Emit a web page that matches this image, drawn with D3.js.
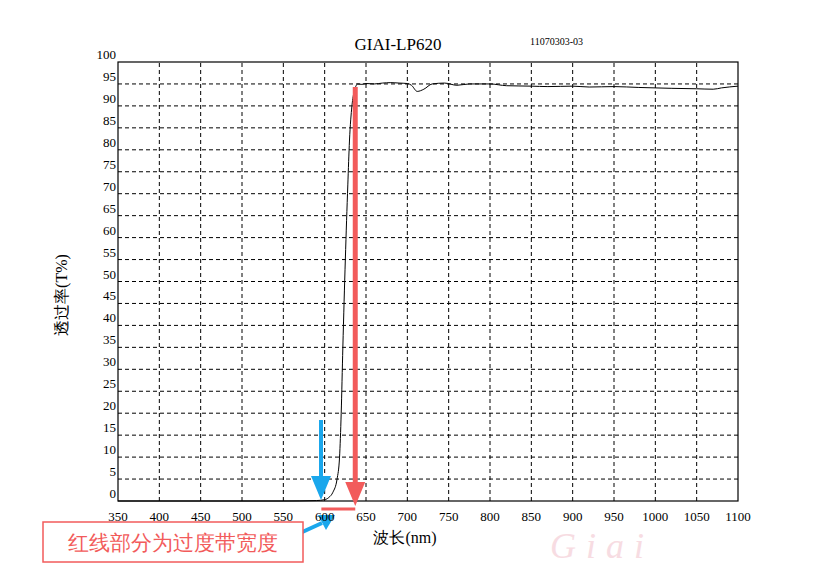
<!DOCTYPE html>
<html><head><meta charset="utf-8">
<script src="https://cdn.jsdelivr.net/npm/d3@7"></script>
<style>body{margin:0;background:#fff}text{font-family:"Liberation Serif","DejaVu Serif",serif}</style>
</head><body>
<svg id="c" width="831" height="566"></svg>
<script>
// transmission curve (wavelength nm, T%)
const wavelength = [350,400,450,500,550,590,600,605,610,615,618,620,622,625,628,630,633,636,638,640,645,650,660,670,680,690,700,705,712,720,730,745,760,775,800,820,850,870,900,920,950,980,1000,1020,1050,1070,1080,1100];
const transmission = [0,0,0,0,0,0.1,0.3,0.8,2,5,10,20,35,55,72,82,90,93.5,94.6,95,94.9,95.1,95,95.2,95.3,95.2,95.1,94.7,93.3,93.8,95.0,95.2,94.7,95.0,95.0,94.6,94.5,94.4,94.5,94.3,94.4,94.2,94.1,94.0,93.9,93.8,94.1,94.5];
const xTicks = d3.range(350, 1101, 50);
const yTicks = d3.range(0, 101, 5);

const svg = d3.select("#c");
const x = d3.scaleLinear().domain([350, 1100]).range([118, 738]);
const y = d3.scaleLinear().domain([0, 100]).range([501, 62]);

// watermark (behind everything)
svg.append("text").attr("x", 550).attr("y", 558).attr("font-size", 36).attr("font-style", "italic")
  .attr("font-family", "Liberation Serif").attr("fill", "#f3c6cf").attr("opacity", 0.6).attr("letter-spacing", 10).text("Giai");

const grid = svg.append("g").attr("stroke", "#000").attr("stroke-dasharray", "4,3").attr("stroke-width", 1);
grid.selectAll(".v").data(xTicks.slice(1, -1)).join("line")
  .attr("x1", d => x(d)).attr("x2", d => x(d)).attr("y1", y(0)).attr("y2", y(100));
grid.selectAll(".h").data(yTicks.slice(1, -1)).join("line")
  .attr("y1", d => y(d)).attr("y2", d => y(d)).attr("x1", x(350)).attr("x2", x(1100));
svg.append("rect").attr("x", x(350)).attr("y", y(100)).attr("width", x(1100) - x(350)).attr("height", y(0) - y(100))
  .attr("fill", "none").attr("stroke", "#000").attr("stroke-width", 1.2);

svg.append("path").datum(d3.zip(wavelength, transmission))
  .attr("fill", "none").attr("stroke", "#000").attr("stroke-width", 1)
  .attr("d", d3.line().x(d => x(d[0])).y(d => y(d[1])).curve(d3.curveMonotoneX));

svg.append("text").attr("x", 398).attr("y", 50).attr("text-anchor", "middle").attr("font-size", 17)
  .attr("font-family", "Liberation Sans, sans-serif").text("GIAI-LP620");
svg.append("text").attr("x", 530).attr("y", 45).attr("font-size", 10).attr("font-family", "Liberation Sans, sans-serif").text("11070303-03");
svg.append("text").attr("transform", "translate(67,295) rotate(-90)").attr("text-anchor", "middle").attr("font-size", 16)
  .attr("font-family", "Noto Sans CJK SC").text("透过率(T%)");
svg.append("text").attr("x", 405).attr("y", 543).attr("text-anchor", "middle").attr("font-size", 16)
  .attr("font-family", "Noto Sans CJK SC").text("波长(nm)");

// annotations
svg.append("line").attr("x1", x(637)).attr("x2", x(637)).attr("y1", 87).attr("y2", 485)
  .attr("stroke", "#f25b5b").attr("stroke-width", 5);
svg.append("path").attr("d", `M${x(637) - 10},482L${x(637) + 10},482L${x(637)},506Z`).attr("fill", "#f25b5b");
svg.append("line").attr("x1", x(596)).attr("x2", x(637)).attr("y1", 509).attr("y2", 509)
  .attr("stroke", "#f25b5b").attr("stroke-width", 3);
svg.append("line").attr("x1", 321).attr("x2", 321).attr("y1", 420).attr("y2", 480).attr("stroke", "#1aa7ec").attr("stroke-width", 4);
svg.append("path").attr("d", "M311,476L331,476L321,500Z").attr("fill", "#1aa7ec");
svg.append("line").attr("x1", 298).attr("x2", 322).attr("y1", 534).attr("y2", 523).attr("stroke", "#1aa7ec").attr("stroke-width", 4);
svg.append("path").attr("d", "M318,515L335,515L326,530Z").attr("fill", "#1aa7ec");
svg.append("rect").attr("x", 43).attr("y", 522).attr("width", 260).attr("height", 40)
  .attr("fill", "#fff").attr("stroke", "#f25b5b").attr("stroke-width", 1.5);
svg.append("text").attr("x", 173).attr("y", 550).attr("text-anchor", "middle").attr("font-size", 21)
  .attr("font-family", "Noto Sans CJK SC").attr("fill", "#f25b5b").text("红线部分为过度带宽度");

svg.append("g").selectAll("text").data(xTicks).join("text")
  .attr("x", d => x(d)).attr("y", 521).attr("text-anchor", "middle").attr("font-size", 13).text(d => d);
svg.append("g").selectAll("text").data(yTicks).join("text")
  .attr("x", 116).attr("y", d => y(d) - 3).attr("text-anchor", "end").attr("font-size", 13).text(d => d);
</script>
</body></html>
